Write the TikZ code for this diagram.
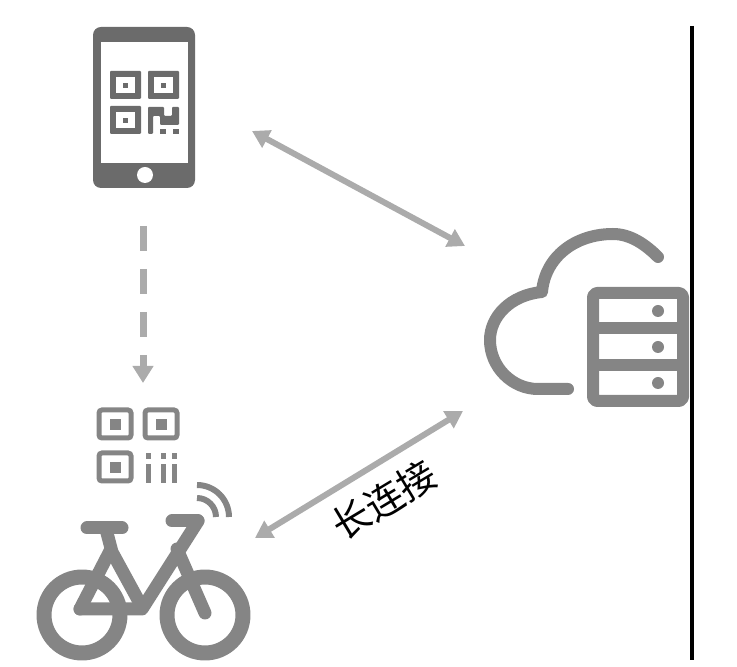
\documentclass[tikz,border=0pt]{standalone}
\usepackage{fontspec}
\usepackage{xcolor}
\usepackage{tikz}
\usetikzlibrary{arrows.meta}
\newfontfamily\cjk{Noto Sans CJK SC}
\tikzset{
    link/.style={black!33, line width=6pt, {Triangle[length=17pt,width=19pt]}-{Triangle[length=17pt,width=19pt]}},
    phonepart/.style={fill=black!58},
    bikepart/.style={black!48, line cap=round, line join=round},
    cloudpart/.style={black!48, line width=12pt, line cap=round, line join=round}
}
\begin{document}
\begin{tikzpicture}[x=1pt, y=1pt]
    \useasboundingbox (0,0) rectangle (737,667);

    % right border
    \draw[black, line width=4pt] (692,641) -- (692,7);

    % phone
    \fill[phonepart, rounded corners=8pt] (93,479) rectangle (195,640);
    \fill[white] (101,504) rectangle (188,625);
    \node[circle, fill=white, minimum size=16pt, inner sep=0pt] (homekey) at (145,492) {};
    \foreach \x/\y in {110/568, 148/568, 110/533}{
        \fill[phonepart, rounded corners=1pt] (\x,\y) rectangle +(31,28);
        \fill[white] (\x+6,\y+6) rectangle +(19,16);
        \fill[phonepart] (\x+13,\y+11) rectangle +(5,5);
    }
    \fill[phonepart, rounded corners=1pt] (148,533) -- (148,560) -- (164,560) -- (164,551) -- (172,551) -- (172,560) -- (179,560) -- (179,542) -- (160,542) -- (160,551) -- (153,551) -- (153,533) -- cycle;
    \foreach \x in {160,173}{
        \fill[phonepart] (\x,533) rectangle +(6,5);
    }

    % bike
    \foreach \x in {82,205}{
        \draw[bikepart, line width=15pt] (\x,52) circle (38);
    }
    \draw[bikepart, line width=13pt] (87,139) -- (122,139);
    \draw[bikepart, line width=13pt] (172,146) -- (198,146);
    \draw[bikepart, line width=13pt] (107,134) -- (112,115) -- (142,60);
    \draw[bikepart, line width=13pt] (80,58) -- (110,116);
    \draw[bikepart, line width=13pt] (80,58) -- (142,58) -- (198,146);
    \draw[bikepart, line width=13pt] (177,118) -- (205,54);
    \draw[black!48, line width=6pt] (197,182) arc (90:0:32);
    \draw[black!48, line width=6pt] (197,169) arc (90:0:19);

    % qr code of the bike
    \foreach \x/\y in {97/229, 143/229, 97/186}{
        \draw[black!48, line width=5pt, rounded corners=3pt] (\x+2,\y) rectangle +(32,28);
        \fill[black!48] (\x+13,\y+8) rectangle +(11,11);
    }
    \foreach \x in {148,163,174}{
        \draw[black!48, line width=5pt] (\x,184) -- (\x,203);
        \draw[black!48, line width=5pt] (\x,208) -- (\x,214);
    }

    % cloud
    \draw[cloudpart] (658,410) .. controls (645,423) and (630,433) .. (613,433)
        .. controls (575,433) and (545,410) .. (542,375)
        .. controls (510,372) and (490,350) .. (490,327)
        .. controls (490,300) and (512,278) .. (538,278) -- (568,278);
    \draw[cloudpart, line cap=butt, rounded corners=4pt] (593,266) rectangle (683,374);
    \draw[cloudpart, line cap=butt] (593,339) -- (683,339);
    \draw[cloudpart, line cap=butt] (593,302) -- (683,302);
    \foreach \y in {356,320,284}{
        \fill[black!48] (658,\y) circle (6);
    }

    % links
    \coordinate (phone) at (252,536);
    \coordinate (cloudtop) at (465,421);
    \coordinate (bike) at (255,129);
    \coordinate (cloudlow) at (463,256);
    \coordinate (phonelow) at (143,441);
    \coordinate (bikeqr) at (143,284);
    \draw[link] (phone) -- (cloudtop);
    \draw[link] (bike) -- (cloudlow);
    \draw[black!33, line width=7pt, dash pattern=on 25pt off 18pt, -{Triangle[length=17pt,width=20pt]}] (phonelow) -- (bikeqr);

    \node[rotate=31, font=\cjk\fontsize{38}{38}\selectfont, inner sep=0pt] (longlink) at (384,167) {长连接};
\end{tikzpicture}
\end{document}
